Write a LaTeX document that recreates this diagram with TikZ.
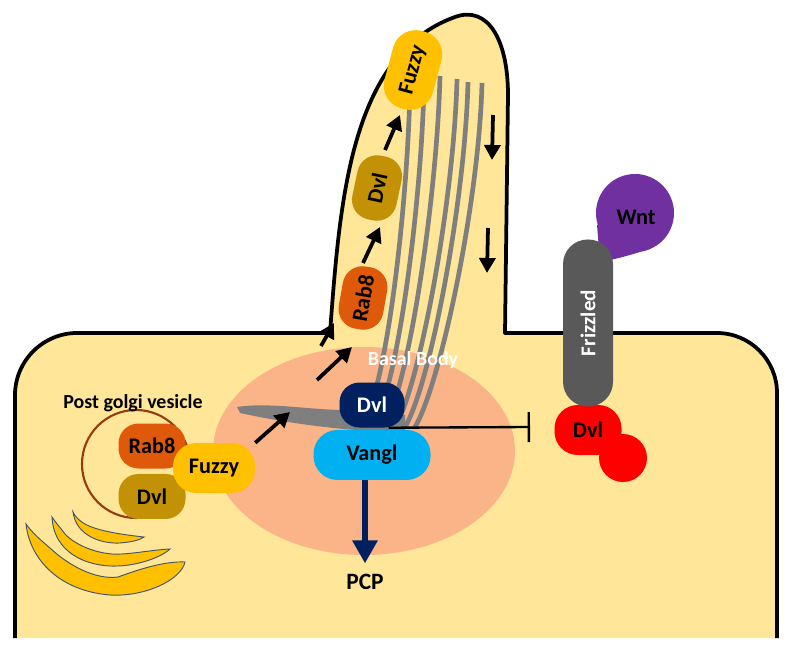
\documentclass[tikz,border=0pt]{standalone}
\usepackage{fontspec}
\setmainfont{Carlito}
\usetikzlibrary{arrows.meta,positioning}

\definecolor{cCell}{RGB}{255,230,153}
\definecolor{cBasal}{RGB}{250,180,135}
\definecolor{cMt}{RGB}{127,127,127}
\definecolor{cRab}{RGB}{222,90,10}
\definecolor{cDvl}{RGB}{195,145,5}
\definecolor{cFuzzy}{RGB}{255,192,0}
\definecolor{cNavy}{RGB}{0,32,96}
\definecolor{cVangl}{RGB}{0,176,240}
\definecolor{cFrz}{RGB}{89,89,89}
\definecolor{cWnt}{RGB}{112,48,160}
\definecolor{cVes}{RGB}{150,60,15}
\definecolor{cGolgi}{RGB}{68,84,106}

\begin{document}
\begin{tikzpicture}[x=0.03cm,y=-0.03cm,>=Latex,
  prot/.style={rectangle,rounded corners=0.6cm,inner sep=0pt,
    minimum width=2.01cm,minimum height=1.35cm,
    font=\fontsize{19}{22}\selectfont\bfseries},
  arr/.style={-{Triangle[length=0.45cm,width=0.48cm]},line width=3.2pt},
  mt/.style={draw=cMt,line width=4pt},
  golgi/.style={fill=cFuzzy,draw=cGolgi,line width=0.8pt},
  membrane/.style={line width=3.2pt,line join=round}]

\useasboundingbox (0,0) rectangle (792,654);

% 細胞
\fill[cCell] (15,638) -- (15,395) .. controls (15,361) and (43,333) .. (77,333)
  -- (330,333) .. controls (340,200) and (350,55) .. (455,17)
  .. controls (488,5) and (508,40) .. (508,95) -- (505,333)
  -- (717,333) .. controls (750,333) and (777,360) .. (777,393) -- (777,638) -- cycle;

% 基體
\fill[cBasal] (364,451) ellipse [x radius=4.53cm, y radius=3.12cm];

% 微管
\fill[cMt] (237,407) .. controls (270,402) and (310,410) .. (345,410) -- (405,415)
  -- (405,432) .. controls (360,432) and (300,426) .. (240,413) -- cycle;
\foreach \xt/\yt/\xe in {410/90/362, 424/86/373, 440/76/384, 457/79/395, 468/82/405, 482/83/415}
  \draw[mt] (\xt,\yt) .. controls (\xt-3,\yt+120) and (\xe+25,385) .. (\xe,427);

% 細胞膜
\draw[membrane] (15,638) -- (15,395) .. controls (15,361) and (43,333) .. (77,333)
  -- (330,333) .. controls (340,200) and (350,55) .. (455,17)
  .. controls (488,5) and (508,40) .. (508,95) -- (505,333)
  -- (717,333) .. controls (750,333) and (777,360) .. (777,393) -- (777,638);

% 高基氏體
\filldraw[golgi] (73,512) .. controls (76,535) and (100,544) .. (120,543)
  .. controls (132,542) and (140,540) .. (144,537)
  .. controls (125,535) and (97,531) .. (85,524)
  .. controls (78,520) and (75,516) .. cycle;
\filldraw[golgi] (52,517) .. controls (53,545) and (75,564) .. (110,566)
  .. controls (135,567) and (160,558) .. (170,549)
  .. controls (150,550) and (128,555) .. (112,554)
  .. controls (88,552) and (68,540) .. (62,530)
  .. controls (57,524) and (54,520) .. cycle;
\filldraw[golgi] (26,524) .. controls (30,560) and (60,591) .. (110,595)
  .. controls (145,597) and (181,580) .. (185,562)
  .. controls (165,561) and (140,569) .. (118,577)
  .. controls (95,580) and (68,565) .. (50,548)
  .. controls (38,538) and (31,531) .. cycle;

% 囊泡
\draw[cVes,line width=1.8pt] (136,464) circle (1.62cm);
\node[font=\fontsize{17}{20}\selectfont\bfseries] (pgv) at (133,403) {Post golgi vesicle};
\node[prot,fill=cRab] (rab8v) at (152,446) {Rab8};
\node[prot,fill=cDvl,below=0.15cm of rab8v] (dvlv) {Dvl};
\node[prot,fill=cFuzzy,minimum width=2.46cm,minimum height=1.5cm,rounded corners=0.7cm] (fuzzyv) at (214,468) {Fuzzy};

% 纖毛內
\node[prot,fill=cRab,rotate=80,minimum width=1.89cm] (rab8c) at (363,298) {Rab8};
\node[prot,fill=cDvl,rotate=78,minimum width=1.95cm] (dvlc) at (377,188) {Dvl};
\node[prot,fill=cFuzzy,rotate=75,minimum width=2.4cm,minimum height=1.5cm,rounded corners=0.7cm] (fuzzyc) at (413,70) {Fuzzy};

% 基體上的蛋白
\node[text=white,font=\fontsize{17}{20}\selectfont\bfseries] (bb) at (413,360) {Basal Body};
\node[prot,fill=cNavy,text=white,minimum width=1.95cm] (dvlb) at (372,405) {Dvl};
\node[prot,fill=cVangl,minimum width=3.51cm,minimum height=1.5cm,rounded corners=0.72cm,
  below=0.06cm of dvlb] (vangl) {Vangl};
\node[font=\fontsize{20}{24}\selectfont\bfseries,inner sep=0pt] (pcp) at (365,582) {PCP};

% 箭頭
\coordinate (a1) at (290,412);
\coordinate (a2s) at (317,380);
\coordinate (a2e) at (352,347);
\coordinate (a0s) at (321,346);
\coordinate (a0e) at (334,323);
\coordinate (a3s) at (363,263);
\coordinate (a3e) at (380,227);
\coordinate (a4s) at (385,150);
\coordinate (a4e) at (400,115);
\coordinate (d1s) at (493,115);
\coordinate (d1e) at (492,160);
\coordinate (d2s) at (488,228);
\coordinate (d2e) at (487,273);
\draw[arr] (fuzzyv.north east) -- (a1);
\draw[arr] (a2s) -- (a2e);
\draw[arr] (a0s) -- (a0e);
\draw[arr] (a3s) -- (a3e);
\draw[arr] (a4s) -- (a4e);
\draw[arr] (d1s) -- (d1e);
\draw[arr] (d2s) -- (d2e);
\draw[cNavy,line width=5pt,-{Triangle[length=0.69cm,width=0.72cm]},shorten >=9pt]
  (vangl.south -| pcp) -- (pcp);

% 抑制
\coordinate (inh) at (530,427);
\draw[line width=2pt,-{Bar[width=0.9cm]}] ([xshift=0.5cm]dvlb.south) -- (inh);

% Wnt / Frizzled
\fill[cWnt] (635,213) circle (1.17cm);
\fill[cWnt] (597,225) -- (600,262) .. controls (620,258) .. (650,249) -- (635,213) -- cycle;
\node[font=\fontsize{19}{22}\selectfont\bfseries] (wnt) at (636,217) {Wnt};
\fill[red] (623,458) circle (0.72cm);
\node[prot,fill=red,minimum height=1.5cm,rounded corners=0.7cm] (dvlr) at (588,430) {Dvl};
\node[prot,fill=cFrz,text=white,rotate=90,minimum width=5.01cm,minimum height=1.5cm,
  rounded corners=0.74cm,font=\fontsize{18}{21}\selectfont\bfseries] (frz) at (588,323) {Frizzled};

\end{tikzpicture}
\end{document}
